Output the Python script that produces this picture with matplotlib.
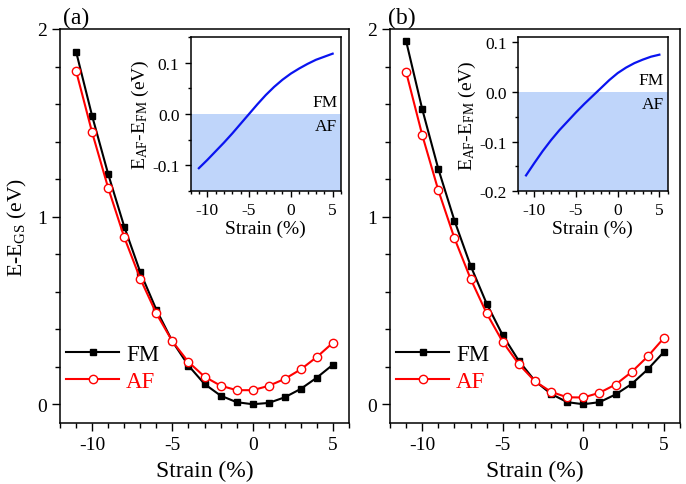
import matplotlib
matplotlib.use("Agg")
import matplotlib.pyplot as plt
from matplotlib.ticker import MultipleLocator, FormatStrFormatter
from matplotlib.transforms import offset_copy

plt.rcParams['font.family'] = ['Liberation Serif', 'DejaVu Serif']
plt.rcParams['mathtext.fontset'] = 'custom'
plt.rcParams['mathtext.rm'] = 'Liberation Serif'
plt.rcParams['mathtext.it'] = 'Liberation Serif:italic'
plt.rcParams['axes.unicode_minus'] = False

strain = [-11, -10, -9, -8, -7, -6, -5, -4, -3, -2, -1, 0, 1, 2, 3, 4, 5]

# panel (a)
fm_a = [1.880, 1.537, 1.227, 0.947, 0.704, 0.504, 0.335, 0.206, 0.108, 0.046,
        0.011, 0.000, 0.007, 0.037, 0.082, 0.142, 0.211]
af_a = [1.777, 1.449, 1.153, 0.890, 0.669, 0.484, 0.335, 0.225, 0.147, 0.099,
        0.075, 0.075, 0.098, 0.135, 0.186, 0.252, 0.328]
diff_a = [-0.106, -0.090, -0.073, -0.056, -0.038, -0.019, 0.000, 0.019, 0.037,
          0.053, 0.067, 0.079, 0.089, 0.098, 0.106, 0.112, 0.118]

# panel (b)
fm_b = [1.936, 1.573, 1.254, 0.979, 0.739, 0.536, 0.367, 0.231, 0.124, 0.055,
        0.011, 0.000, 0.011, 0.052, 0.108, 0.186, 0.279]
af_b = [1.771, 1.435, 1.140, 0.885, 0.669, 0.484, 0.332, 0.213, 0.122, 0.066,
        0.037, 0.036, 0.061, 0.105, 0.172, 0.255, 0.353]
diff_b = [-0.168, -0.143, -0.119, -0.097, -0.077, -0.059, -0.041, -0.024, -0.008,
          0.008, 0.024, 0.038, 0.049, 0.058, 0.065, 0.071, 0.075]

W, H = 686, 485
fig = plt.figure(figsize=(W / 100, H / 100), dpi=100)


def px_box(x0, x1, y0, y1):
    # pixel box (left, right, top, bottom) -> figure fraction rect
    return [x0 / W, (H - y1) / H, (x1 - x0) / W, (y1 - y0) / H]


def style_axis(ax, size, major_len, minor_len):
    for s in ax.spines.values():
        s.set_linewidth(1.1)
    ax.tick_params(which='both', direction='out', top=False, right=False,
                   width=1.0, labelsize=size)
    ax.tick_params(which='major', length=major_len)
    ax.tick_params(which='minor', length=minor_len)


def panel(rect, inset_rect, fm, af, diff, tag, tag_x, inset_ylim, inset_ticks, ylabel):
    ax = fig.add_axes(rect)
    ax.plot(strain, fm, color='black', lw=1.5, marker='s', ms=5,
            mfc='black', mec='black', label='FM')
    ax.plot(strain, af, color='red', lw=1.5, marker='o', ms=6,
            mfc='white', mec='red', mew=1.0, label='AF')
    ax.set_xlim(-12, 6)
    ax.set_ylim(-0.1, 2)
    ax.xaxis.set_major_locator(MultipleLocator(5))
    ax.xaxis.set_minor_locator(MultipleLocator(1))
    ax.yaxis.set_major_locator(MultipleLocator(1))
    ax.yaxis.set_minor_locator(MultipleLocator(0.2))
    style_axis(ax, 14, 6, 3.5)
    ax.set_xlabel('Strain (%)', fontsize=17, labelpad=5)
    if ylabel:
        ax.set_ylabel('E-E$_{\\mathrm{GS}}$ (eV)', fontsize=15.5, labelpad=6)
    leg = ax.legend(loc='lower left', bbox_to_anchor=(-0.01, 0.055),
                    frameon=False, fontsize=16.5, handlelength=2.3,
                    handletextpad=0.3, labelspacing=0.25, borderaxespad=0)
    for txt, c in zip(leg.get_texts(), ['black', 'red']):
        txt.set_color(c)
    ax.text(tag_x, 1.015, tag, transform=ax.transAxes, fontsize=17,
            ha='left', va='baseline')

    ins = fig.add_axes(inset_rect)
    ins.axhspan(inset_ylim[0], 0, color='#bfd5fa', lw=0, zorder=0)
    ins.plot(strain, diff, color='#0a14f0', lw=1.6)
    ins.set_xlim(-12, 6)
    ins.set_ylim(*inset_ylim)
    ins.xaxis.set_major_locator(MultipleLocator(5))
    ins.xaxis.set_minor_locator(MultipleLocator(1))
    ins.set_yticks(inset_ticks)
    ins.yaxis.set_minor_locator(MultipleLocator(0.05))
    ins.yaxis.set_major_formatter(FormatStrFormatter('%.1f'))
    style_axis(ins, 12.5, 4.5, 2.5)
    ins.set_xlabel('Strain (%)', fontsize=14, labelpad=1)
    ins.set_ylabel('E$_{\\mathrm{AF}}$-E$_{\\mathrm{FM}}$ (eV)', fontsize=14,
                   labelpad=1)
    ytr = ins.get_yaxis_transform()
    ins.text(0.975, 0, 'FM', fontsize=12.5, ha='right', va='bottom',
             transform=offset_copy(ytr, fig=fig, y=4, units='dots'))
    ins.text(0.975, 0, 'AF', fontsize=12.5, ha='right', va='top',
             transform=offset_copy(ytr, fig=fig, y=-4, units='dots'))
    return ax, ins


panel(px_box(60, 349, 30, 424), px_box(190.5, 341, 38.3, 191.7),
      fm_a, af_a, diff_a, '(a)', 0.01, (-0.15, 0.15), [-0.1, 0.0, 0.1], True)
panel(px_box(390, 680, 30, 424), px_box(517.7, 667.7, 38.3, 192.3),
      fm_b, af_b, diff_b, '(b)', -0.007, (-0.2, 0.11), [-0.2, -0.1, 0.0, 0.1], False)

fig.savefig('out.png', dpi=100)
